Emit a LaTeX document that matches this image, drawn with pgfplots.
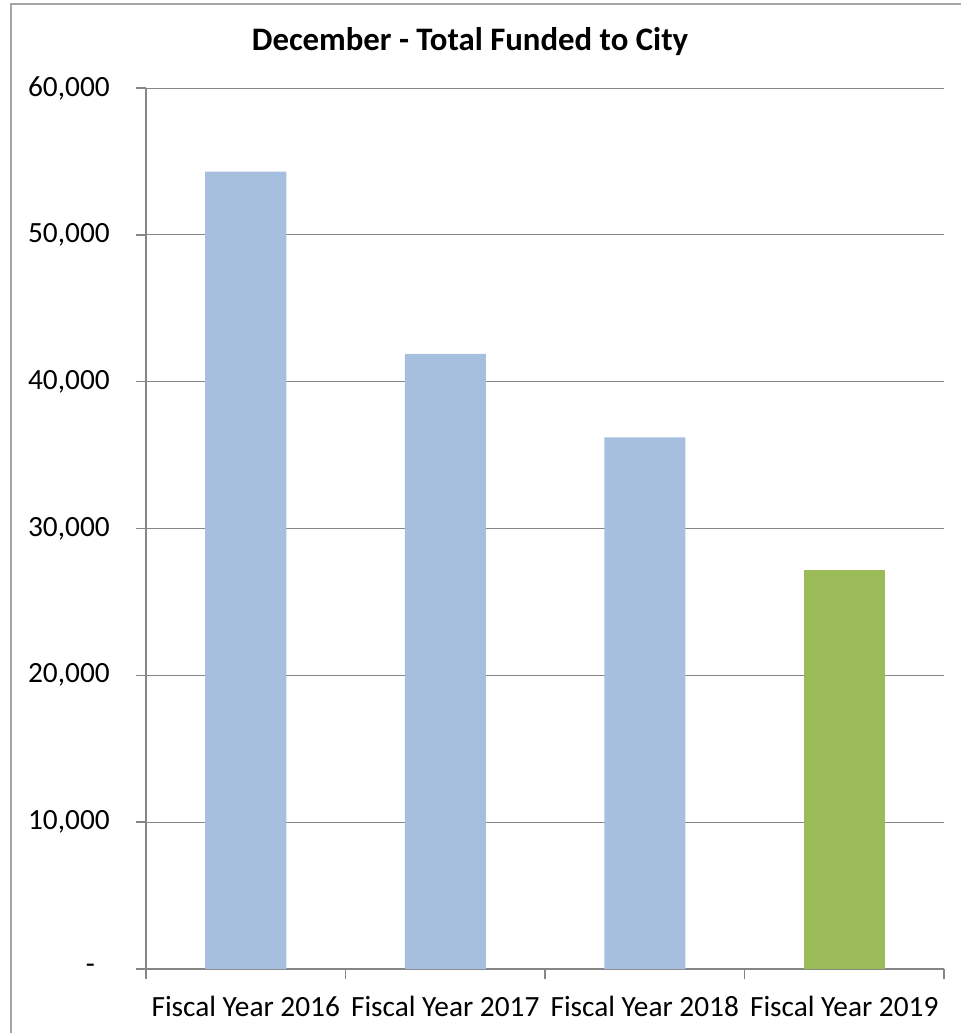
\documentclass[border=0pt]{standalone}
\usepackage{fontspec}
\setmainfont{Carlito}
\usepackage{pgfplots}
\pgfplotsset{compat=1.18}
\definecolor{barblue}{HTML}{A7BFDE}
\definecolor{bargreen}{HTML}{9BBB59}
\definecolor{axisgrey}{HTML}{868686}
\definecolor{framegrey}{HTML}{A6A6A6}
\begin{document}
\begin{tikzpicture}[x=0.75pt,y=-0.75pt]
\useasboundingbox (0,0) rectangle (961,1033);
\draw[color=framegrey, line width=1.1pt] (11,1100) -- (11,4) -- (1000,4);
\node[font=\fontsize{24.6}{30}\selectfont\bfseries, anchor=base] at (470,50) {December - Total Funded to City};
\coordinate (o) at (146,969);
\begin{axis}[
  at={(o)}, anchor=south west, scale only axis,
  width=598.5pt, height=660.75pt,
  xmin=0.5, xmax=4.5, ymin=0, ymax=60000,
  separate axis lines, axis x line*=bottom, axis y line*=left,
  axis line style={axisgrey, line width=1.1pt},
  ytick={0,10000,20000,30000,40000,50000,60000},
  yticklabels={-\hphantom{0},{10,000},{20,000},{30,000},{40,000},{50,000},{60,000}},
  /pgf/number format/assume math mode=true,
  ymajorgrids, grid style={axisgrey, line width=0.75pt},
  tick align=outside, major tick length=7.5pt,
  tick style={axisgrey, line width=1.1pt},
  xtick={0.5,1.5,2.5,3.5,4.5},
  x tick label as interval,
  xticklabels={Fiscal Year 2016,Fiscal Year 2017,Fiscal Year 2018,Fiscal Year 2019},
  ticklabel style={font=\fontsize{22}{26}\selectfont},
  yticklabel style={anchor=east, inner sep=0pt, xshift=-19.5pt},
  xticklabel style={anchor=base, inner sep=0pt, yshift=-27.75pt},
  scaled y ticks=false,
  ybar, bar shift=0pt, bar width=60.75pt,
  clip=false,
]
\addplot[fill=barblue, draw=none] coordinates {(1,54300) (2,41900) (3,36200)};
\addplot[fill=bargreen, draw=none] coordinates {(4,27200)};
\end{axis}
\end{tikzpicture}
\end{document}
